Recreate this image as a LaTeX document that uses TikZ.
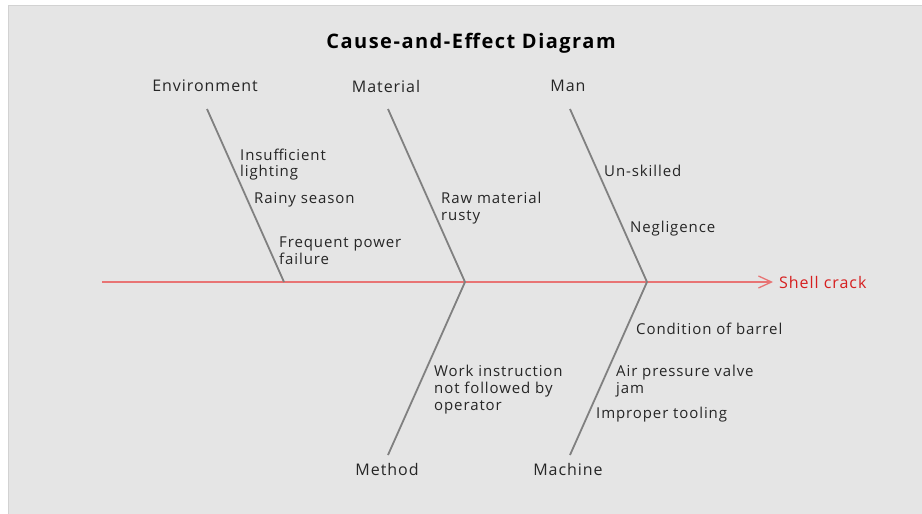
\documentclass[tikz,border=0pt]{standalone}
\usepackage{fontspec}
\setmainfont{Open Sans}[LetterSpace=6]
\newfontfamily\titlefont{Open Sans}[LetterSpace=7.5]
\usetikzlibrary{arrows.meta}
\definecolor{panel}{HTML}{E5E5E5}
\definecolor{panelborder}{HTML}{D2D2D2}
\definecolor{bone}{HTML}{808080}
\definecolor{spine}{HTML}{E87474}
\definecolor{effect}{HTML}{D61F1F}
\tikzset{
  bonestyle/.style={draw=bone, line width=1.8pt},
  catlabel/.style={font=\fontsize{16}{18}\selectfont, text=black!85, inner sep=0pt},
  cause/.style={font=\fontsize{15}{16.7}\selectfont, text=black!85, anchor=west, align=left, inner sep=0pt},
}
\begin{document}
\begin{tikzpicture}[x=1pt,y=-1pt]
\useasboundingbox (0,0) rectangle (922,514);
\fill[white] (0,0) rectangle (922,514);
\draw[panelborder, fill=panel, line width=1pt] (8.5,5.5) rectangle (923,515);
% title
\node[font=\titlefont\fontsize{20}{24}\bfseries\selectfont, inner sep=0pt] (title) at (471,43) {Cause-and-Effect Diagram};
% spine
\coordinate (tail) at (102,282);
\coordinate (head) at (773,282);
\draw[spine, line width=1.5pt, -{Straight Barb[length=13pt,width=12pt,line width=1.3pt]}] (tail) -- (head);
\node[font=\fontsize{16}{18}\selectfont, text=effect, anchor=west, inner sep=0pt] (effectlbl) at (779,282) {Shell crack};
% joints on spine
\coordinate (jEnv) at (284,282);
\coordinate (jMat) at (465,282);
\coordinate (jMan) at (647,282);
% bone ends
\coordinate (tEnv) at (207,109);
\coordinate (tMat) at (388,109);
\coordinate (tMan) at (570,109);
\coordinate (bMet) at (388,455);
\coordinate (bMac) at (570,455);
\draw[bonestyle] (tEnv) -- (jEnv);
\draw[bonestyle] (tMat) -- (jMat);
\draw[bonestyle] (tMan) -- (jMan);
\draw[bonestyle] (jMat) -- (bMet);
\draw[bonestyle] (jMan) -- (bMac);
% category labels
\node[catlabel] (env) at (205,86) {Environment};
\node[catlabel] (mat) at (386,86) {Material};
\node[catlabel] (man) at (568,86) {Man};
\node[catlabel] (met) at (387,469) {Method};
\node[catlabel] (mac) at (568,469) {Machine};
% causes
\node[cause] (c1) at (240,164.5) {Insufficient\\lighting};
\node[cause] (c2) at (254,200) {Rainy season};
\node[cause] (c3) at (279,251) {Frequent power\\failure};
\node[cause] (c4) at (441,208) {Raw material\\rusty};
\node[cause] (c5) at (604,171) {Un-skilled};
\node[cause] (c6) at (630,229) {Negligence};
\node[cause] (c7) at (636,329) {Condition of barrel};
\node[cause] (c8) at (616,381) {Air pressure valve\\jam};
\node[cause] (c9) at (596,415) {Improper tooling};
\node[cause] (c10) at (434,389.5) {Work instruction\\not followed by\\operator};
\end{tikzpicture}
\end{document}
